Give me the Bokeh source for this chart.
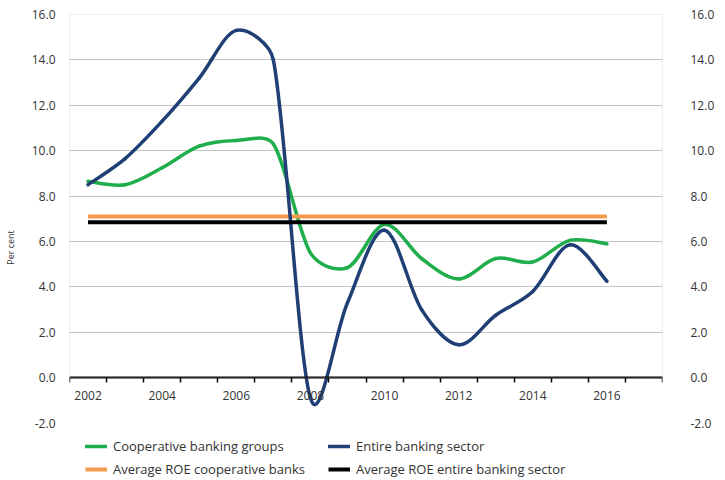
import numpy as np
from bokeh.plotting import figure
from bokeh.models import (Range1d, LinearAxis, FixedTicker, BoxAnnotation, Legend,
                          LegendItem, ColumnDataSource, NumeralTickFormatter, Grid)
from bokeh.embed import file_html
from bokeh.resources import INLINE

# ---- data ----
years = list(range(2002, 2017))
coop = [8.65, 8.5, 9.25, 10.2, 10.45, 10.3, 5.5, 4.85, 6.75, 5.25, 4.35, 5.25, 5.1, 6.05, 5.9]
entire = [8.5, 9.65, 11.3, 13.2, 15.3, 14.0, -0.9, 3.3, 6.5, 3.0, 1.45, 2.75, 3.8, 5.85, 4.25]
avg_coop = 7.1
avg_entire = 6.85
y_ticks = [-2, 0, 2, 4, 6, 8, 10, 12, 14, 16]
grid_ticks = [2, 4, 6, 8, 10, 12, 14]
x_label_years = [2002, 2004, 2006, 2008, 2010, 2012, 2014, 2016]
x_tick_marks = [y + 0.5 for y in range(2001, 2018)]

FONT = "Open Sans"
TXT = "#333333"
GREEN = "#1fae4b"
BLUE = "#203f74"
ORANGE = "#f39a4c"
BLACK = "#000000"

# approximate screen scale (px per data unit) used only for curve smoothing
SX, SY = 37.2, 22.7


def bezier_source(xs, ys):
    """Smoothed curve through the data points (Catmull-Rom, arms clamped by chord)."""
    x = np.array(xs, float) * SX
    y = np.array(ys, float) * SY
    xp = np.concatenate([[x[0]], x, [x[-1]]])
    yp = np.concatenate([[y[0]], y, [y[-1]]])
    tx = xp[2:] - xp[:-2]
    ty = yp[2:] - yp[:-2]
    tl = np.hypot(tx, ty)
    ux, uy = tx / tl, ty / tl
    base = tl / 6.0
    seg = np.hypot(np.diff(x), np.diff(y))
    arm_next = np.minimum(base[:-1], seg / 3.0)   # at start of each segment
    arm_prev = np.minimum(base[1:], seg / 3.0)    # at end of each segment
    cx0 = x[:-1] + ux[:-1] * arm_next
    cy0 = y[:-1] + uy[:-1] * arm_next
    cx1 = x[1:] - ux[1:] * arm_prev
    cy1 = y[1:] - uy[1:] * arm_prev
    return ColumnDataSource(dict(
        x0=x[:-1] / SX, y0=y[:-1] / SY, x1=x[1:] / SX, y1=y[1:] / SY,
        cx0=cx0 / SX, cy0=cy0 / SY, cx1=cx1 / SX, cy1=cy1 / SY,
    ))


p = figure(width=725, height=480, output_backend="svg", toolbar_location=None,
           x_range=Range1d(2001.5, 2017.5), y_range=Range1d(-4.53, 16),
           x_axis_location=None, y_axis_location=None,
           min_border_left=68, min_border_right=63, min_border_top=14, min_border_bottom=0)
p.outline_line_color = None
p.background_fill_color = "white"
p.border_fill_color = "white"
for g in p.grid:
    g.visible = False

p.add_layout(Grid(dimension=1, ticker=FixedTicker(ticks=grid_ticks),
                  grid_line_color="#c4c4c4", grid_line_width=1), "center")
p.add_layout(BoxAnnotation(bottom=0, top=16, fill_alpha=0, line_color="#8a8a8a",
                           line_width=1.2))


def yaxis(standoff, label=None):
    ax = LinearAxis(ticker=FixedTicker(ticks=y_ticks),
                    formatter=NumeralTickFormatter(format="0.0"),
                    axis_line_color=None, major_tick_line_color=None,
                    major_tick_out=0, major_tick_in=0,
                    minor_tick_line_color=None, minor_tick_out=0, minor_tick_in=0,
                    major_label_standoff=standoff,
                    major_label_text_font=FONT, major_label_text_font_size="12px",
                    major_label_text_color=TXT)
    if label:
        ax.axis_label = label
        ax.axis_label_text_font = FONT
        ax.axis_label_text_font_size = "9px"
        ax.axis_label_text_font_style = "normal"
        ax.axis_label_text_color = TXT
        ax.axis_label_standoff = 12
    return ax


p.add_layout(yaxis(14, "Per cent"), "left")
p.add_layout(yaxis(28), "right")

xa = LinearAxis(fixed_location=0,
                ticker=FixedTicker(ticks=x_label_years, minor_ticks=x_tick_marks),
                major_tick_out=0, major_tick_in=0, minor_tick_out=5, minor_tick_in=0,
                minor_tick_line_color=BLACK, minor_tick_line_width=1.5,
                axis_line_color=BLACK, axis_line_width=1.8,
                major_label_standoff=8, major_label_text_font=FONT,
                major_label_text_font_size="12px", major_label_text_color=TXT)
p.add_layout(xa, "below")

# series
r_green = p.bezier(x0="x0", y0="y0", x1="x1", y1="y1", cx0="cx0", cy0="cy0",
                   cx1="cx1", cy1="cy1", source=bezier_source(years, coop),
                   line_color=GREEN, line_width=3.5, line_cap="round")
r_orange = p.line(years, [avg_coop] * len(years), line_color=ORANGE, line_width=4)
r_blue = p.bezier(x0="x0", y0="y0", x1="x1", y1="y1", cx0="cx0", cy0="cy0",
                  cx1="cx1", cy1="cy1", source=bezier_source(years, entire),
                  line_color=BLUE, line_width=3.5, line_cap="round")
r_black = p.line(years, [avg_entire] * len(years), line_color=BLACK, line_width=4)


def make_legend(items, loc):
    return Legend(items=items, location=loc, orientation="vertical",
                  border_line_color=None, background_fill_alpha=0,
                  padding=0, margin=0, spacing=3, glyph_width=22, glyph_height=20,
                  label_standoff=6, label_text_font=FONT, label_text_font_size="13px",
                  label_text_color=TXT)


leg1 = make_legend([LegendItem(label="Cooperative banking groups", renderers=[r_green]),
                    LegendItem(label="Average ROE cooperative banks", renderers=[r_orange])],
                   (16, 1))
leg2 = make_legend([LegendItem(label="Entire banking sector", renderers=[r_blue]),
                    LegendItem(label="Average ROE entire banking sector", renderers=[r_black])],
                   (259, 1))
p.add_layout(leg1)
p.add_layout(leg2)

open("out.html", "w").write(file_html(p, INLINE))
